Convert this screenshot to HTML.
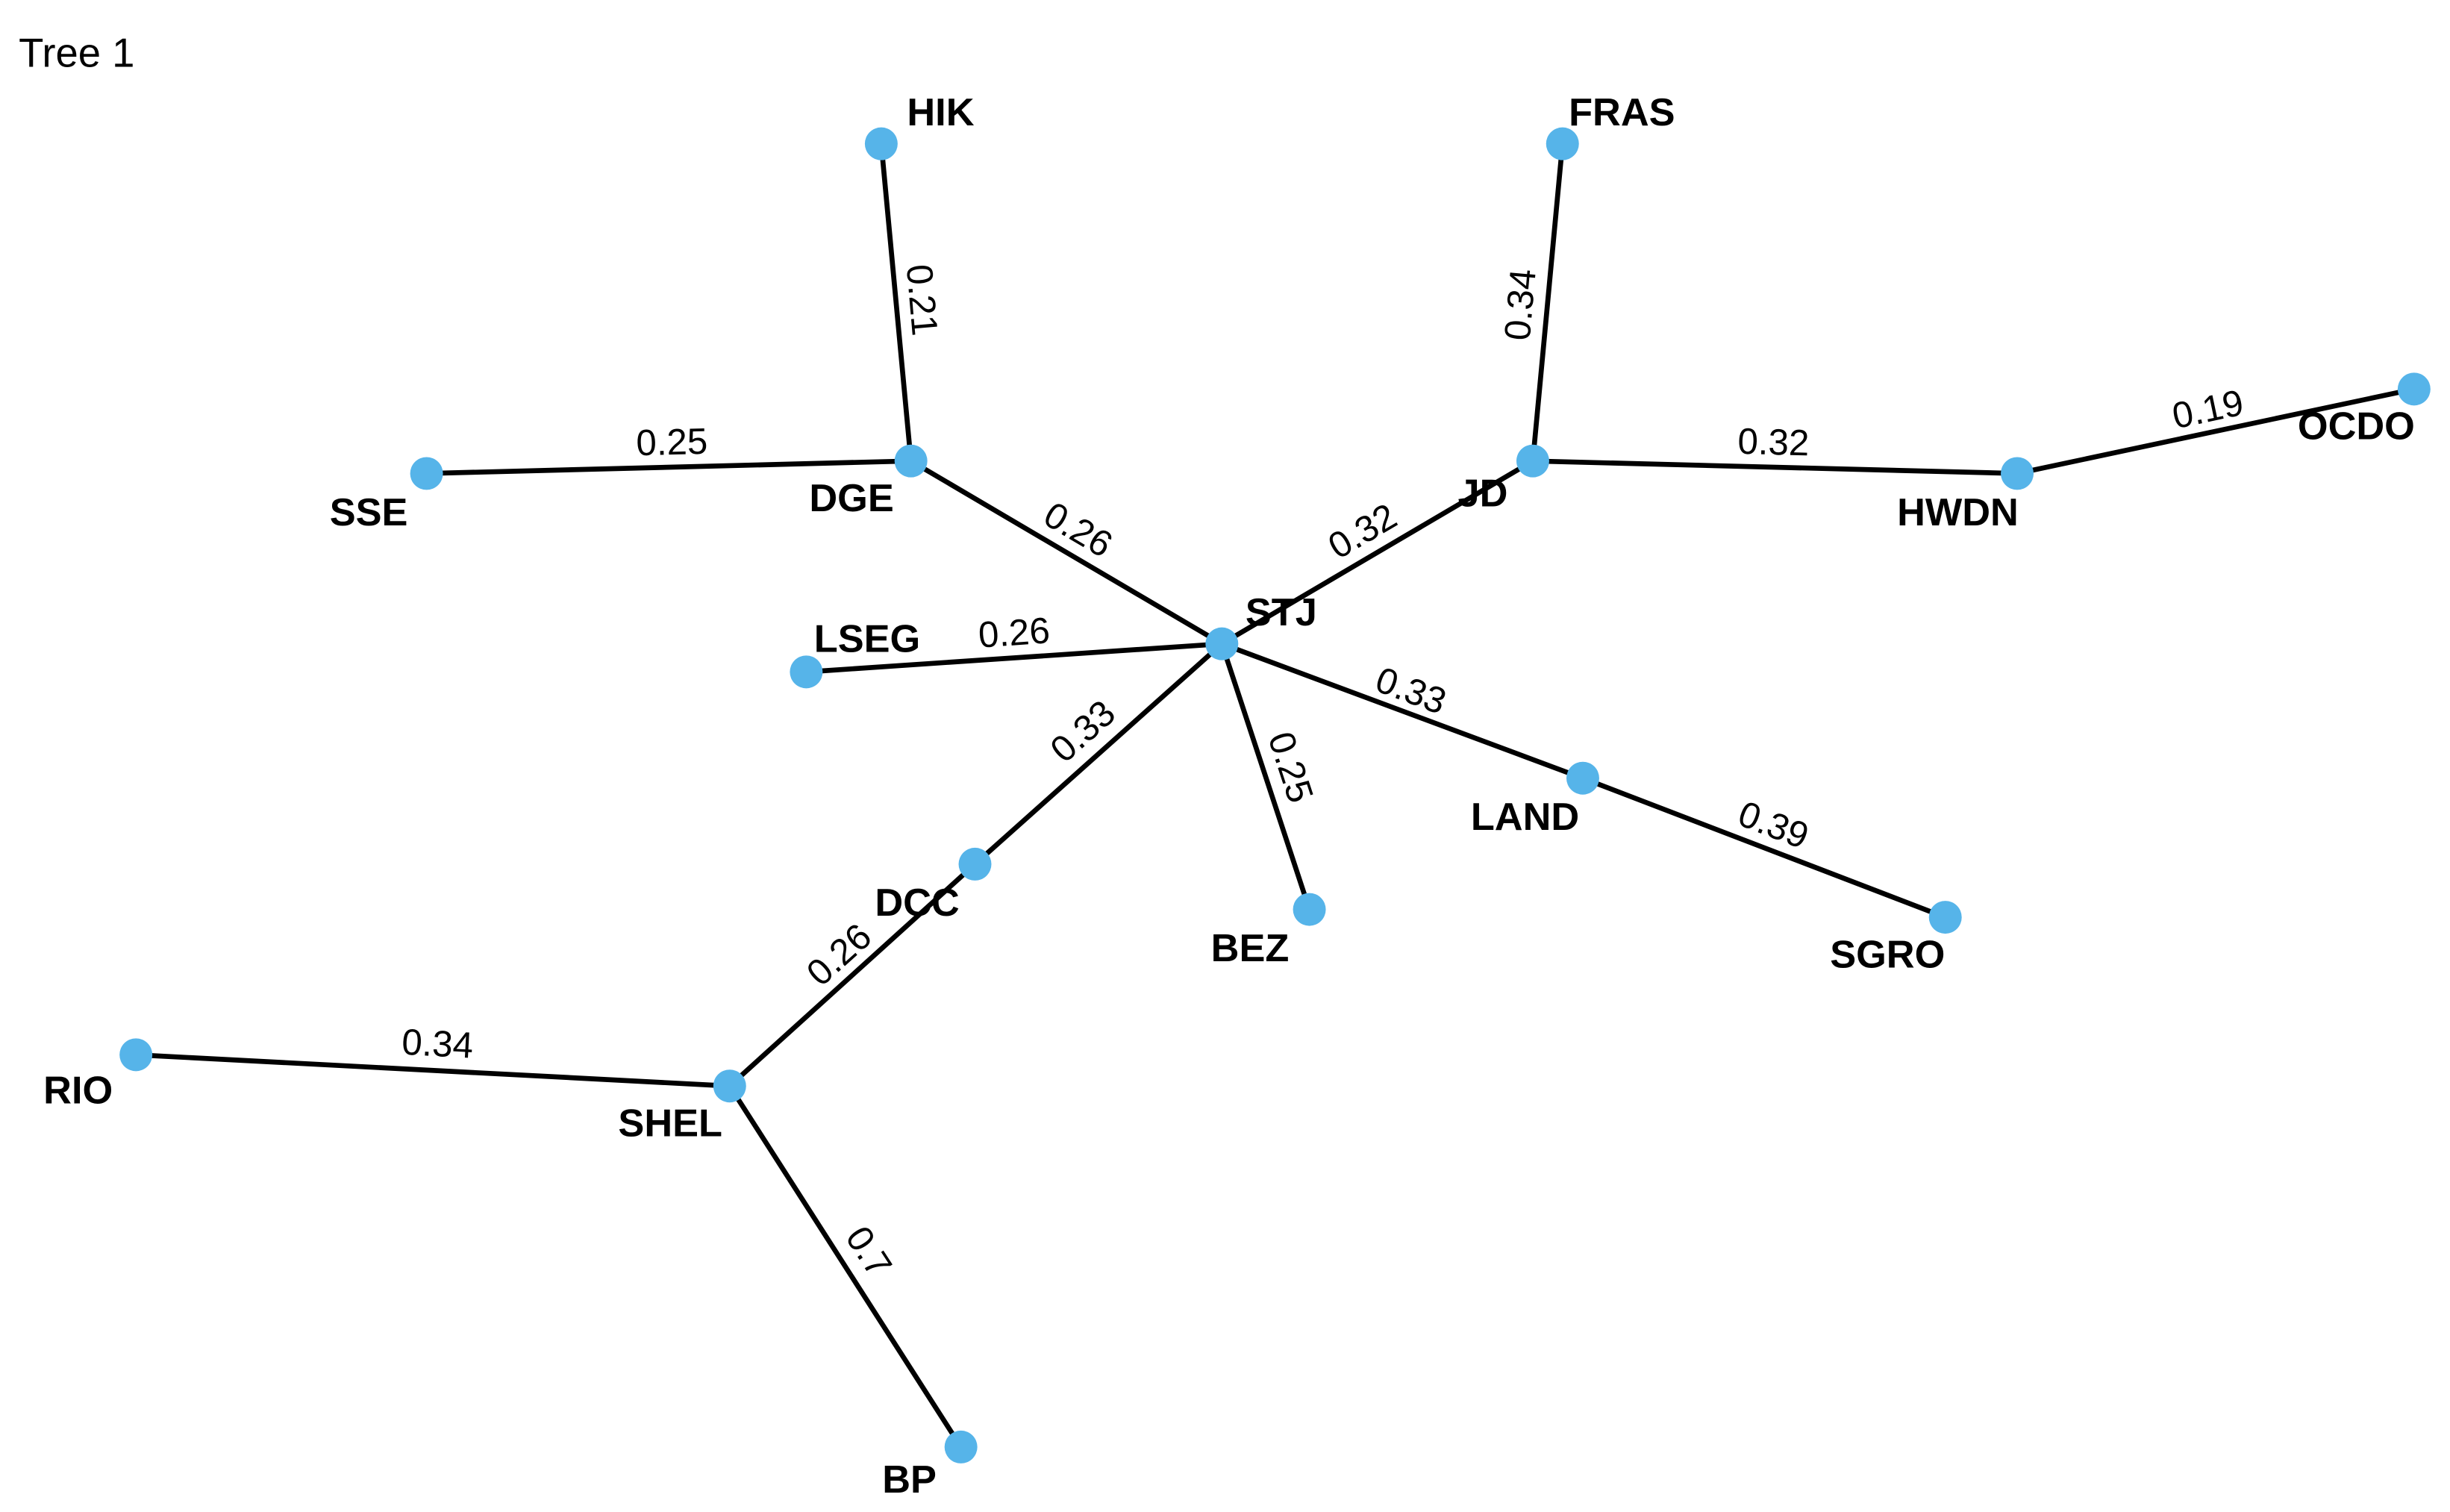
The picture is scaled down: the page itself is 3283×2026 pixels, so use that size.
<!DOCTYPE html>
<html><head><meta charset="utf-8"><style>
html,body{margin:0;padding:0;background:#fff;}
svg{display:block;}
text{font-family:"Liberation Sans",Arial,sans-serif;fill:#000;}
.n{font-weight:bold;font-size:25px;text-anchor:middle;dominant-baseline:central;}
.e{font-size:23.5px;text-anchor:middle;dominant-baseline:central;}
</style></head><body>
<svg width="3283" height="2026" viewBox="0 0 1568 967.6" preserveAspectRatio="none" xmlns="http://www.w3.org/2000/svg">
<rect width="1568" height="967.6" fill="#fff"/>
<text x="12" y="34" style="font-size:26px;dominant-baseline:central">Tree 1</text>
<g stroke="#000" stroke-width="3.2" fill="none">
<line x1="564" y1="92" x2="583" y2="295"/>
<line x1="273" y1="303" x2="583" y2="295"/>
<line x1="583" y1="295" x2="782" y2="412"/>
<line x1="516" y1="430" x2="782" y2="412"/>
<line x1="782" y1="412" x2="981" y2="295"/>
<line x1="1000" y1="92" x2="981" y2="295"/>
<line x1="981" y1="295" x2="1291" y2="303"/>
<line x1="1291" y1="303" x2="1545" y2="249"/>
<line x1="782" y1="412" x2="1013" y2="498"/>
<line x1="1013" y1="498" x2="1245" y2="587"/>
<line x1="782" y1="412" x2="838" y2="582"/>
<line x1="782" y1="412" x2="624" y2="553"/>
<line x1="624" y1="553" x2="467" y2="695"/>
<line x1="87" y1="675" x2="467" y2="695"/>
<line x1="467" y1="695" x2="615" y2="926"/>
</g>
<g fill="#56B4E9">
<circle cx="564" cy="92" r="10.5"/><circle cx="1000" cy="92" r="10.5"/>
<circle cx="273" cy="303" r="10.5"/><circle cx="583" cy="295" r="10.5"/>
<circle cx="981" cy="295" r="10.5"/><circle cx="1291" cy="303" r="10.5"/>
<circle cx="1545" cy="249" r="10.5"/><circle cx="782" cy="412" r="10.5"/>
<circle cx="516" cy="430" r="10.5"/><circle cx="1013" cy="498" r="10.5"/>
<circle cx="624" cy="553" r="10.5"/><circle cx="838" cy="582" r="10.5"/>
<circle cx="1245" cy="587" r="10.5"/><circle cx="87" cy="675" r="10.5"/>
<circle cx="467" cy="695" r="10.5"/><circle cx="615" cy="926" r="10.5"/>
</g>
<g class="n">
<text class="n" x="602" y="72">HIK</text>
<text class="n" x="1038" y="72">FRAS</text>
<text class="n" x="236" y="328">SSE</text>
<text class="n" x="545" y="319">DGE</text>
<text class="n" x="949" y="316">JD</text>
<text class="n" x="1253" y="328">HWDN</text>
<text class="n" x="1508" y="273">OCDO</text>
<text class="n" x="820" y="392">STJ</text>
<text class="n" x="555" y="409">LSEG</text>
<text class="n" x="976" y="523">LAND</text>
<text class="n" x="587" y="578">DCC</text>
<text class="n" x="800" y="607">BEZ</text>
<text class="n" x="1208" y="611">SGRO</text>
<text class="n" x="50" y="698">RIO</text>
<text class="n" x="429" y="719">SHEL</text>
<text class="n" x="582" y="947">BP</text>
</g>
<g>
<text class="e" transform="translate(590,192) rotate(85)">0.21</text>
<text class="e" transform="translate(430,283) rotate(-1.5)">0.25</text>
<text class="e" transform="translate(690,339) rotate(30.5)">0.26</text>
<text class="e" transform="translate(649,405) rotate(-4)">0.26</text>
<text class="e" transform="translate(872,340) rotate(-30.5)">0.32</text>
<text class="e" transform="translate(973,195) rotate(-85)">0.34</text>
<text class="e" transform="translate(1135,283) rotate(1.5)">0.32</text>
<text class="e" transform="translate(1413,262) rotate(-12)">0.19</text>
<text class="e" transform="translate(903,442) rotate(20.4)">0.33</text>
<text class="e" transform="translate(1135,528) rotate(21)">0.39</text>
<text class="e" transform="translate(826,491) rotate(71.8)">0.25</text>
<text class="e" transform="translate(693,468) rotate(-41.7)">0.33</text>
<text class="e" transform="translate(537,611) rotate(-42)">0.26</text>
<text class="e" transform="translate(280,668) rotate(3)">0.34</text>
<text class="e" transform="translate(556,801) rotate(57)">0.7</text>
</g>
</svg>
</body></html>
